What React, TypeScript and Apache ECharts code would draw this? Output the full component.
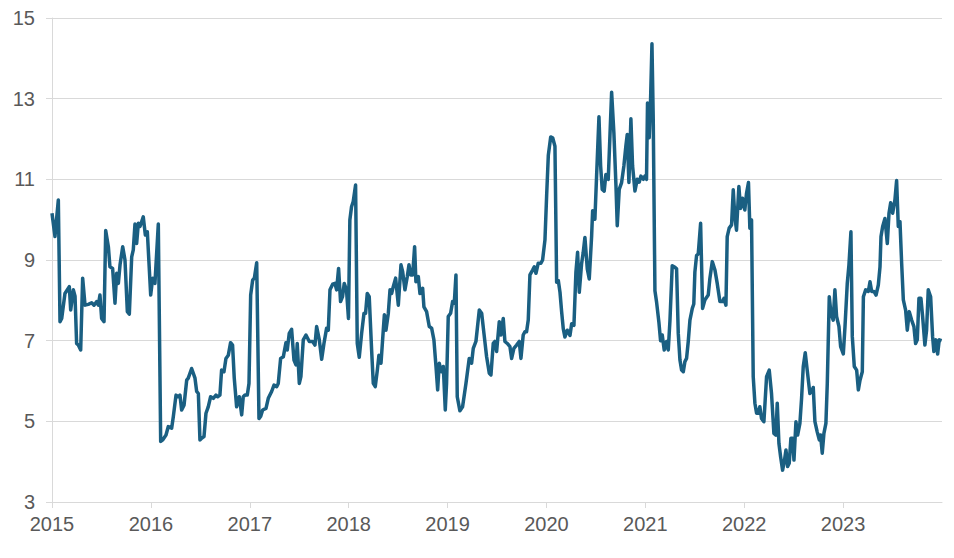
import React, { useEffect, useRef } from "react";
import * as echarts from "echarts";

// Decimal-year positions of the observations
const years: number[] = [
  2015.000, 2015.030, 2015.064, 2015.081, 2015.098, 2015.131, 2015.175, 2015.189, 2015.216, 2015.233,
  2015.249, 2015.266, 2015.290, 2015.310, 2015.334, 2015.367, 2015.401, 2015.425, 2015.452, 2015.468,
  2015.485, 2015.502, 2015.526, 2015.543, 2015.570, 2015.586, 2015.613, 2015.637, 2015.654, 2015.671,
  2015.688, 2015.715, 2015.738, 2015.762, 2015.782, 2015.806, 2015.822, 2015.839, 2015.856, 2015.873,
  2015.890, 2015.907, 2015.923, 2015.944, 2015.964, 2015.998, 2016.018, 2016.041, 2016.075, 2016.099,
  2016.119, 2016.153, 2016.176, 2016.210, 2016.227, 2016.254, 2016.277, 2016.294, 2016.311, 2016.335,
  2016.362, 2016.378, 2016.412,
  2016.446, 2016.463, 2016.480, 2016.496, 2016.513, 2016.537, 2016.557, 2016.580, 2016.604, 2016.631,
  2016.658, 2016.675, 2016.698, 2016.715, 2016.739, 2016.759, 2016.783, 2016.806, 2016.826, 2016.843,
  2016.867, 2016.894, 2016.918, 2016.934, 2016.951, 2016.975, 2016.992, 2017.009, 2017.029, 2017.046,
  2017.070, 2017.093, 2017.110, 2017.130, 2017.164, 2017.187, 2017.221, 2017.245, 2017.272, 2017.288,
  2017.312, 2017.339, 2017.366, 2017.379, 2017.399, 2017.423, 2017.447, 2017.467, 2017.480, 2017.501,
  2017.517, 2017.541, 2017.568, 2017.585, 2017.602, 2017.636, 2017.659, 2017.676, 2017.703, 2017.727,
  2017.750, 2017.777, 2017.794, 2017.811, 2017.838, 2017.861, 2017.878, 2017.898, 2017.918, 2017.938,
  2017.955, 2017.978, 2017.998, 2018.012, 2018.029, 2018.046, 2018.070,
  2018.087, 2018.107, 2018.131, 2018.155, 2018.171, 2018.188, 2018.208, 2018.232, 2018.249, 2018.269,
  2018.290, 2018.306, 2018.327, 2018.350, 2018.361, 2018.377, 2018.401, 2018.418, 2018.435, 2018.451,
  2018.475, 2018.502, 2018.529, 2018.546, 2018.569, 2018.593, 2018.610, 2018.627, 2018.647, 2018.667,
  2018.680, 2018.704, 2018.721, 2018.748, 2018.761, 2018.788, 2018.815, 2018.839, 2018.862, 2018.883,
  2018.900, 2018.916, 2018.936, 2018.957, 2018.977, 2018.990, 2019.007, 2019.031, 2019.051, 2019.068,
  2019.085, 2019.098, 2019.125, 2019.152, 2019.186, 2019.219, 2019.243, 2019.260, 2019.287, 2019.321,
  2019.345, 2019.368, 2019.395, 2019.422, 2019.439, 2019.462, 2019.479, 2019.496, 2019.523, 2019.540,
  2019.563, 2019.580, 2019.604, 2019.631, 2019.648, 2019.671, 2019.698, 2019.725, 2019.742, 2019.765,
  2019.782, 2019.799, 2019.816, 2019.833, 2019.860, 2019.877, 2019.894, 2019.917, 2019.944, 2019.961,
  2019.985, 2020.002, 2020.019, 2020.043, 2020.063, 2020.086, 2020.103, 2020.120, 2020.137, 2020.154,
  2020.170, 2020.187, 2020.211, 2020.238, 2020.255, 2020.278, 2020.298, 2020.315, 2020.332, 2020.355,
  2020.372, 2020.389, 2020.413, 2020.433, 2020.457, 2020.467, 2020.490, 2020.507, 2020.531, 2020.548,
  2020.564, 2020.584, 2020.601, 2020.625, 2020.642, 2020.659, 2020.682, 2020.703, 2020.716, 2020.736,
  2020.760, 2020.783, 2020.803, 2020.817, 2020.834, 2020.854, 2020.871, 2020.895, 2020.918, 2020.938,
  2020.955, 2020.979, 2020.996, 2021.012, 2021.022, 2021.039, 2021.053, 2021.067, 2021.080, 2021.097,
  2021.114, 2021.137, 2021.154, 2021.171, 2021.191, 2021.215, 2021.232, 2021.249, 2021.272, 2021.299,
  2021.316, 2021.333, 2021.350, 2021.367, 2021.384, 2021.400, 2021.417, 2021.434, 2021.451, 2021.475,
  2021.490, 2021.501, 2021.518, 2021.535, 2021.559,
  2021.579, 2021.602, 2021.636, 2021.653, 2021.677, 2021.704, 2021.727, 2021.754, 2021.781, 2021.795,
  2021.815, 2021.828, 2021.848, 2021.872, 2021.889, 2021.905, 2021.922, 2021.946, 2021.963, 2021.983,
  2022.006, 2022.023, 2022.043, 2022.057, 2022.074, 2022.091, 2022.108, 2022.125, 2022.141, 2022.158,
  2022.175, 2022.199, 2022.226, 2022.253, 2022.276, 2022.300, 2022.320, 2022.334, 2022.351, 2022.368,
  2022.388, 2022.405, 2022.422, 2022.439, 2022.455, 2022.472, 2022.489, 2022.503, 2022.523, 2022.540,
  2022.563, 2022.580, 2022.597, 2022.617, 2022.637, 2022.664, 2022.681, 2022.698, 2022.715, 2022.738,
  2022.759, 2022.772, 2022.789, 2022.806, 2022.826, 2022.840,
  2022.860, 2022.877, 2022.900, 2022.917, 2022.934, 2022.958, 2022.975, 2023.002, 2023.019, 2023.042,
  2023.059, 2023.079, 2023.093, 2023.113, 2023.137, 2023.154, 2023.171, 2023.194, 2023.205, 2023.228,
  2023.255, 2023.272, 2023.289, 2023.312, 2023.333, 2023.356, 2023.373, 2023.383, 2023.400, 2023.423,
  2023.447, 2023.464, 2023.481, 2023.501, 2023.524, 2023.541, 2023.558, 2023.575, 2023.592, 2023.609,
  2023.632, 2023.649, 2023.669, 2023.693, 2023.716, 2023.733, 2023.750, 2023.767, 2023.787, 2023.804,
  2023.827, 2023.844, 2023.861, 2023.885, 2023.905, 2023.918, 2023.939, 2023.956, 2023.972, 2023.996,
];

// Series values
const values: number[] = [
  10.16, 9.58, 10.49, 7.47, 7.55, 8.17, 8.34, 7.76, 8.26, 8.10,
  6.93, 6.89, 6.77, 8.55, 7.88, 7.90, 7.94, 7.88, 7.97, 7.88,
  8.13, 7.55, 7.47, 9.73, 9.33, 8.83, 8.79, 7.93, 8.67, 8.42,
  8.88, 9.33, 9.00, 7.72, 7.66, 9.08, 9.25, 9.89, 9.41, 9.91,
  9.83, 9.95, 10.07, 9.62, 9.70, 8.13, 8.55, 8.42, 9.89, 4.50,
  4.54, 4.66, 4.87, 4.83, 5.12, 5.65, 5.61, 5.65, 5.28, 5.40,
  6.02, 6.07, 6.31,
  6.07, 5.74, 5.69, 4.54, 4.58, 4.62, 5.20, 5.36, 5.61, 5.57,
  5.65, 5.61, 5.65, 6.27, 6.23, 6.56, 6.64, 6.95, 6.89, 6.07,
  5.36, 5.61, 5.16, 5.61, 5.65, 5.65, 5.94, 8.13, 8.50, 8.55,
  8.93, 5.07, 5.12, 5.28, 5.32, 5.57, 5.74, 5.90, 5.86, 5.94,
  6.56, 6.60, 6.95, 6.77, 7.18, 7.28, 6.52, 6.40, 6.93, 5.94,
  6.11, 7.02, 7.14, 7.06, 6.98, 6.98, 6.89, 7.35, 7.02, 6.54,
  6.93, 7.31, 7.26, 8.26, 8.40, 8.42, 8.26, 8.79, 7.97, 8.09,
  8.42, 8.26, 7.55, 9.99, 10.32, 10.45, 10.86,
  6.93, 6.59, 7.18, 7.68, 7.68, 8.17, 8.09, 6.77, 5.94, 5.86,
  6.27, 6.64, 6.44, 7.26, 7.64, 7.26, 7.68, 8.26, 8.17, 8.34,
  8.55, 7.88, 8.88, 8.71, 8.26, 8.59, 8.88, 8.63, 8.63, 9.33,
  8.46, 8.59, 8.17, 8.30, 7.84, 7.72, 7.35, 7.31, 7.02, 6.36,
  5.78, 6.44, 6.23, 6.36, 5.28, 5.94, 7.60, 7.68, 7.97, 7.93,
  8.63, 5.61, 5.26, 5.36, 5.94, 6.56, 6.44, 6.81, 6.98, 7.76,
  7.68, 7.18, 6.60, 6.19, 6.15, 6.93, 6.98, 6.73, 7.47, 7.14,
  7.55, 6.98, 6.93, 6.85, 6.56, 6.81, 6.89, 6.98, 6.56, 7.14,
  7.22, 7.22, 7.51, 8.63, 8.75, 8.83, 8.67, 8.92, 8.92, 9.00,
  9.50, 10.60, 11.60, 12.05, 12.03, 11.82, 8.45, 8.49, 8.20, 7.71,
  7.30, 7.09, 7.26, 7.13, 7.42, 7.38, 8.70, 9.19, 8.20, 8.90,
  9.19, 9.56, 8.78, 8.53, 9.60, 10.22, 10.01, 11.08, 12.55, 11.33,
  10.75, 10.71, 11.12, 11.00, 12.07, 13.16, 12.15, 10.84, 9.85, 10.75,
  10.92, 11.33, 11.82, 12.11, 10.92, 12.50, 11.33, 10.71, 11.00, 10.93,
  11.08, 11.00, 11.08, 11.00, 12.89, 12.03, 12.98, 14.36, 12.48, 8.24,
  7.95, 7.46, 7.00, 7.14, 6.77, 6.98, 6.77, 7.50, 8.86, 8.82,
  8.78, 7.18, 6.52, 6.27, 6.23, 6.48, 6.56, 6.98, 7.51, 7.80,
  7.91, 8.70, 9.11, 9.15, 9.91,
  7.80, 8.01, 8.13, 8.55, 8.96, 8.75, 8.42, 7.97, 7.97, 8.05,
  7.88, 9.58, 9.79, 9.87, 10.74, 10.07, 9.74, 10.82, 10.28, 10.53,
  10.24, 10.65, 10.92, 9.79, 9.99, 6.11, 5.45, 5.20, 5.20, 5.36,
  5.07, 4.99, 6.11, 6.27, 5.69, 4.70, 4.66, 5.45, 4.45, 4.12,
  3.79, 4.00, 4.29, 3.88, 3.96, 4.58, 4.58, 4.04, 4.99, 4.66,
  4.95, 5.57, 6.36, 6.70, 6.27, 5.69, 5.74, 5.84, 4.99, 4.74,
  4.54, 4.66, 4.21, 4.70, 4.95, 5.94,
  8.09, 7.68, 7.51, 8.26, 7.60, 7.35, 6.85, 6.67, 7.35, 8.42,
  8.88, 9.70, 7.10, 6.36, 6.27, 5.78, 6.02, 6.23, 8.09, 8.26,
  8.22, 8.46, 8.22, 8.22, 8.13, 8.38, 8.83, 9.58, 9.83, 10.03,
  9.41, 10.16, 10.42, 10.16, 10.49, 10.97, 9.83, 9.95, 8.92, 8.01,
  7.76, 7.26, 7.72, 7.51, 7.35, 6.93, 7.02, 8.05, 8.05, 7.60,
  6.89, 7.26, 8.26, 8.09, 7.10, 6.73, 7.02, 6.67, 7.02, 7.00,
];

// Tick labels on the time axis
const yearTicks: number[] = [2015, 2016, 2017, 2018, 2019, 2020, 2021, 2022, 2023];

export default function App() {
  const ref = useRef<HTMLDivElement>(null);

  useEffect(() => {
    if (!ref.current) return;
    const chart = echarts.init(ref.current, undefined, { renderer: "svg" });
    const data = years.map((y, i) => [y, values[i]]);
    const font = "'Liberation Sans', Arial, sans-serif";
    chart.setOption({
      animation: false,
      grid: { left: 52, right: 12, top: 18, bottom: 56, containLabel: false },
      xAxis: {
        type: "value",
        min: 2015,
        max: 2024,
        interval: 1,
        axisLine: { show: true, lineStyle: { color: "#d9d9d9", width: 1 } },
        axisTick: { show: true, length: 6, lineStyle: { color: "#d9d9d9" }, customValues: yearTicks },
        axisLabel: {
          customValues: yearTicks,
          formatter: (v: number) => String(Math.round(v)),
          color: "#595959",
          fontSize: 20,
          fontFamily: font,
          margin: 12,
        },
        splitLine: { show: false },
      },
      yAxis: {
        type: "value",
        min: 3,
        max: 15,
        interval: 2,
        axisLine: { show: true, lineStyle: { color: "#d9d9d9", width: 1 } },
        axisTick: { show: true, length: 6, lineStyle: { color: "#d9d9d9" } },
        axisLabel: {
          color: "#595959",
          fontSize: 20,
          fontFamily: font,
          margin: 17,
        },
        splitLine: { show: true, lineStyle: { color: "#d9d9d9", width: 1 } },
      },
      series: [
        {
          type: "line",
          data,
          showSymbol: false,
          symbol: "none",
          lineStyle: { color: "#1a5f82", width: 3.5, join: "round" },
        },
      ],
    });
    return () => chart.dispose();
  }, []);

  return (
    <div
      ref={ref}
      style={{ position: "absolute", left: 0, top: 0, width: 954, height: 558 }}
    />
  );
}
